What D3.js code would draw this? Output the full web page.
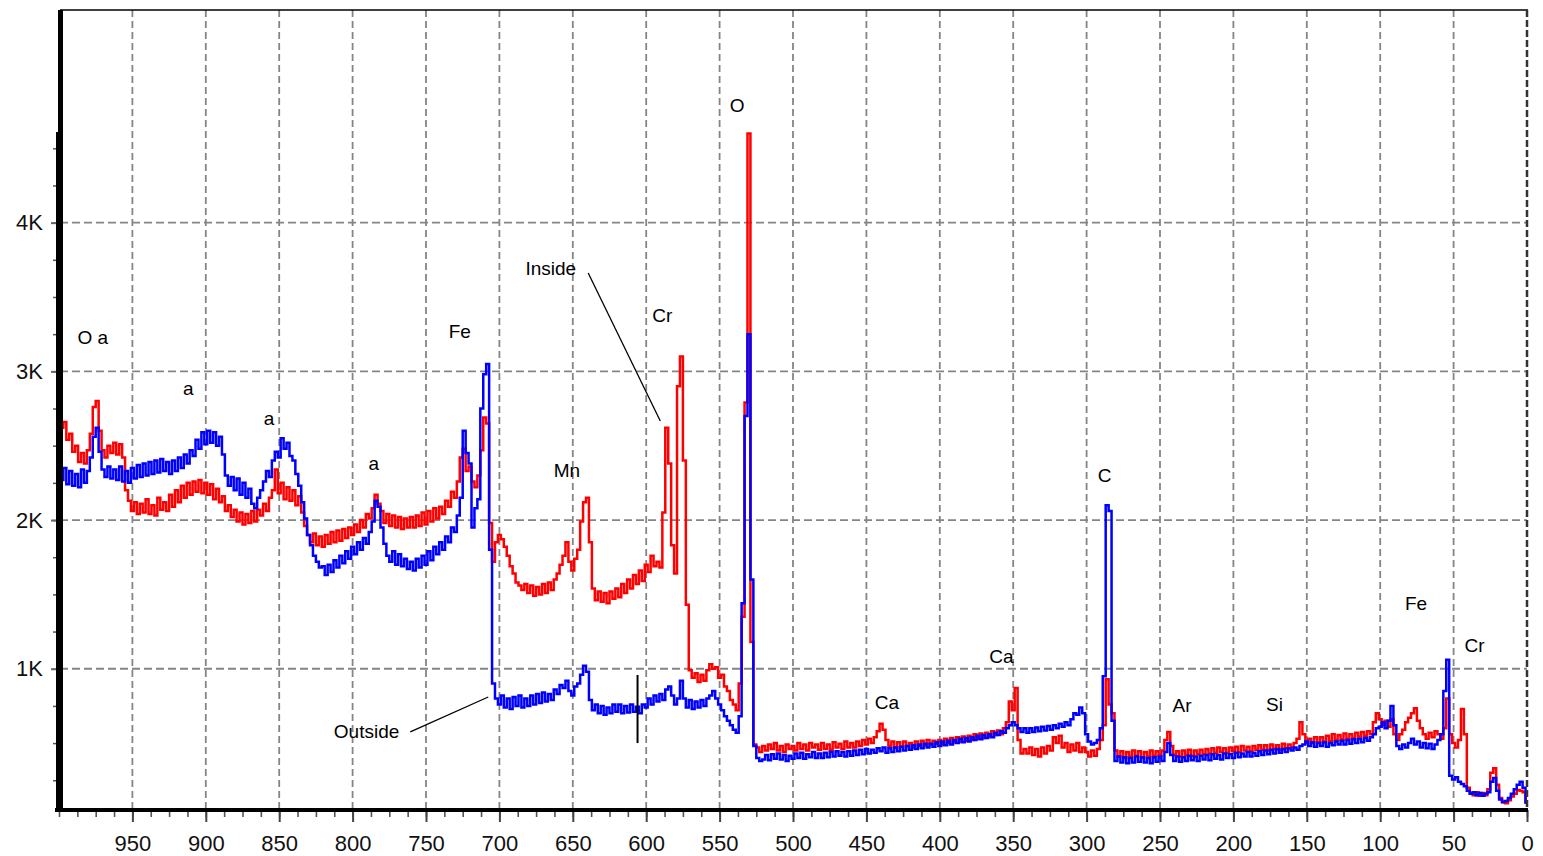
<!DOCTYPE html>
<html>
<head>
<meta charset="utf-8">
<script src="https://cdn.jsdelivr.net/npm/d3@7"></script>
<style>
  body { margin: 0; background: #fff; }
  svg { display: block; font-family: "Liberation Sans", Arial, sans-serif; }
</style>
</head>
<body>
<svg id="chart" width="1543" height="856"></svg>
<script>
// binding energy channels, 2 eV wide, from 1000 down to 0
const energy = d3.range(1000, -1, -2);

// "Inside" spectrum (red), one value per channel
const inside = [
  2700,2620,2660,2540,2580,2460,2500,2390,2450,2380,
  2470,2580,2760,2800,2600,2470,2420,2500,2450,2520,
  2440,2510,2420,2200,2130,2060,2120,2040,2110,2050,
  2140,2040,2100,2030,2150,2070,2120,2060,2170,2090,
  2200,2120,2230,2150,2250,2170,2260,2190,2270,2180,
  2250,2170,2240,2140,2210,2120,2160,2060,2100,2020,
  2070,1990,2050,1970,2040,1980,2060,1990,2070,2030,
  2110,2060,2150,2200,2340,2180,2250,2140,2220,2130,
  2200,2100,2160,2050,1960,1900,1850,1910,1830,1890,
  1820,1900,1840,1920,1850,1930,1860,1940,1880,1950,
  1900,1970,1920,2000,1950,2040,2010,2080,2170,2110,
  2060,1980,2040,1960,2030,1950,2020,1940,2010,1950,
  2020,1950,2030,1960,2050,1970,2060,1990,2080,2010,
  2090,2040,2130,2090,2190,2150,2260,2420,2480,2330,
  2360,2260,2220,2300,2470,2690,2650,1980,1720,1850,
  1900,1870,1820,1760,1690,1640,1580,1560,1530,1570,
  1510,1560,1490,1550,1500,1570,1510,1580,1530,1600,
  1640,1700,1760,1850,1720,1660,1740,1800,1990,2120,
  2150,1850,1540,1460,1520,1450,1510,1440,1520,1470,
  1540,1480,1570,1510,1600,1540,1630,1570,1660,1590,
  1700,1650,1760,1690,1720,1680,2050,2620,2380,1830,
  1640,2900,3100,2400,1430,990,940,970,910,960,
  920,990,1030,1000,1010,940,960,880,850,790,
  760,720,900,1350,2790,4600,1180,490,470,440,
  480,450,490,460,500,450,480,440,490,460,
  480,450,500,460,490,450,500,470,490,455,
  500,460,490,455,505,470,495,460,510,470,
  500,470,510,480,520,490,530,500,540,580,
  630,590,520,480,510,470,505,475,510,480,
  500,470,510,480,515,485,520,490,515,495,
  520,490,530,500,535,505,540,510,545,515,
  550,520,560,530,565,535,570,545,580,555,
  585,560,600,640,780,720,870,520,430,460,
  430,470,420,460,410,470,430,480,450,540,
  500,550,470,500,440,490,450,500,440,470,
  440,410,450,415,460,520,620,930,760,700,
  450,410,445,400,440,410,450,415,445,405,
  440,410,450,415,445,420,450,520,575,480,
  420,445,410,450,420,455,415,450,425,455,
  425,460,430,465,435,470,440,465,435,470,
  445,475,440,480,450,475,445,480,455,485,
  455,485,450,490,460,485,455,495,465,490,
  470,500,530,640,560,500,530,500,540,505,
  540,510,550,515,560,520,555,525,565,530,
  560,535,570,545,575,550,580,560,640,700,
  660,620,650,610,660,560,520,560,590,640,
  670,700,735,650,600,560,530,570,540,580,
  560,530,600,800,560,500,470,520,730,560,
  200,165,150,170,145,165,150,190,300,330,
  220,130,100,95,115,140,160,185,180,170,
  100
];

// "Outside" spectrum (blue)
const outside = [
  2380,2270,2350,2240,2330,2230,2310,2220,2340,2250,
  2330,2420,2560,2620,2460,2340,2290,2360,2280,2340,
  2270,2360,2260,2330,2250,2350,2280,2370,2290,2380,
  2300,2390,2310,2400,2320,2410,2330,2390,2310,2400,
  2330,2420,2350,2440,2380,2470,2430,2540,2480,2590,
  2510,2600,2520,2590,2500,2560,2440,2300,2230,2290,
  2200,2280,2170,2250,2150,2210,2110,2080,2150,2200,
  2260,2330,2290,2400,2460,2420,2550,2480,2520,2430,
  2400,2310,2230,2120,2010,1900,1830,1760,1720,1680,
  1690,1630,1700,1650,1730,1680,1760,1710,1790,1740,
  1820,1770,1850,1800,1880,1840,1920,1990,2130,2090,
  1950,1840,1760,1720,1790,1700,1770,1690,1740,1670,
  1720,1660,1740,1680,1760,1700,1790,1730,1820,1770,
  1850,1800,1890,1850,1950,1920,2030,2150,2600,2450,
  2380,1950,2080,2140,2750,2980,3050,1800,900,800,
  760,820,740,800,730,810,750,820,740,800,
  750,820,760,830,770,840,780,830,790,860,
  830,890,870,920,850,820,880,900,960,1020,
  980,790,720,760,700,750,690,740,700,760,
  710,760,700,750,705,760,710,745,700,760,
  740,800,760,820,780,830,790,860,880,820,
  760,800,920,800,740,790,730,780,740,790,
  750,800,820,850,800,760,720,680,650,620,
  590,570,680,1440,2700,3250,1600,480,400,380,
  390,420,385,425,395,430,390,420,380,415,
  395,430,400,435,395,425,405,440,400,430,
  400,435,405,440,410,445,415,440,410,445,
  415,450,420,455,425,460,430,455,435,465,
  445,470,435,465,440,470,445,475,450,480,
  455,485,460,490,465,495,470,495,475,505,
  480,510,485,515,490,520,500,530,505,535,
  510,540,520,550,525,555,535,560,540,570,
  555,580,570,600,620,640,620,600,575,600,
  570,600,575,605,580,610,585,615,590,620,
  600,630,610,640,620,660,700,690,740,700,
  560,510,490,500,520,600,950,2100,2060,650,
  380,410,370,405,365,400,370,410,375,405,
  370,400,365,405,375,410,380,440,500,420,
  380,410,375,405,380,415,385,410,380,415,
  390,420,385,425,395,420,390,430,400,425,
  400,435,405,430,410,440,410,435,415,445,
  420,450,425,455,430,460,435,460,440,465,
  450,470,455,480,490,510,480,505,475,500,
  480,505,475,500,485,510,490,515,490,520,
  495,525,500,530,505,535,515,540,560,600,
  610,640,600,650,750,620,480,460,490,470,
  500,530,490,510,470,500,465,495,460,490,
  520,560,850,1060,280,255,270,240,225,210,
  180,160,170,150,165,145,160,170,240,265,
  180,120,105,110,130,160,190,220,240,200,
  100
];

const xTicks = d3.range(950, -1, -50);
const yTicks = [1000, 2000, 3000, 4000];

// peak labels, placed in energy / counts
const peakLabels = [
  { text: "O a", e: 977, c: 3184 },
  { text: "a", e: 912, c: 2841 },
  { text: "a", e: 857, c: 2639 },
  { text: "a", e: 785.5, c: 2336 },
  { text: "Fe", e: 727, c: 3224 },
  { text: "Mn", e: 654, c: 2289 },
  { text: "Inside", e: 665, c: 3648 },
  { text: "Cr", e: 589, c: 3332 },
  { text: "O", e: 538, c: 4744 },
  { text: "C", e: 287.7, c: 2256 },
  { text: "Ca", e: 436, c: 729 },
  { text: "Ca", e: 358, c: 1039 },
  { text: "Ar", e: 235, c: 709 },
  { text: "Si", e: 172, c: 716 },
  { text: "Fe", e: 75.6, c: 1395 },
  { text: "Cr", e: 35.8, c: 1113 },
  { text: "Outside", e: 790.5, c: 534 }
];
const leaders = [
  [[639.5, 3661], [590.4, 2666]],
  [[760.7, 575], [707.6, 810]],
  [[605.9, 958], [605.9, 500]]
];

const svg = d3.select("#chart");
const plotLeft = 60, plotRight = 1527, plotTop = 10, plotBottom = 810;

const x = d3.scaleLinear().domain([1000, 0]).range([59, plotRight]);
const y = d3.scaleLinear().domain([50, 5430]).range([plotBottom, plotTop]);

const rows = energy.map((e, i) => ({ e: e, inside: inside[i], outside: outside[i] }));

// grid
svg.append("g")
  .selectAll("line")
  .data(xTicks.filter((d) => d > 0))
  .join("line")
  .attr("x1", (d) => x(d)).attr("x2", (d) => x(d))
  .attr("y1", plotTop).attr("y2", plotBottom)
  .attr("stroke", "#858585")
  .attr("stroke-width", 1.8)
  .attr("stroke-dasharray", "7,4");

svg.append("g")
  .selectAll("line")
  .data(yTicks)
  .join("line")
  .attr("x1", plotLeft).attr("x2", plotRight)
  .attr("y1", (d) => y(d)).attr("y2", (d) => y(d))
  .attr("stroke", "#858585")
  .attr("stroke-width", 1.8)
  .attr("stroke-dasharray", "8,4");

// spectra
svg.append("clipPath").attr("id", "plot")
  .append("rect").attr("x", plotLeft).attr("y", plotTop)
  .attr("width", plotRight - plotLeft).attr("height", plotBottom - plotTop);

const plot = svg.append("g").attr("clip-path", "url(#plot)");

const series = [
  { key: "inside", color: "#ff0000" },
  { key: "outside", color: "#0000ff" }
];
series.forEach((s) => {
  const line = d3.line()
    .curve(d3.curveStep)
    .x((d) => x(d.e))
    .y((d) => y(d[s.key]));
  plot.append("path")
    .datum(rows)
    .attr("fill", "none")
    .attr("stroke", s.color)
    .attr("stroke-width", 2.5)
    .attr("d", line);
});

// frame
svg.append("line")
  .attr("x1", plotLeft).attr("x2", plotRight + 1).attr("y1", plotTop).attr("y2", plotTop)
  .attr("stroke", "#000").attr("stroke-width", 1.5);
svg.append("line")
  .attr("x1", plotRight).attr("x2", plotRight).attr("y1", plotTop).attr("y2", plotBottom)
  .attr("stroke", "#333").attr("stroke-width", 2.5)
  .attr("stroke-dasharray", "7,3");

// x axis
const minorX = d3.range(1000, -0.1, -12.5);
svg.append("g")
  .attr("transform", `translate(0,${plotBottom})`)
  .call(d3.axisBottom(x).tickValues(minorX).tickSize(7).tickFormat(""))
  .call((g) => g.select(".domain").remove())
  .call((g) => g.selectAll("line").attr("stroke", "#555").attr("stroke-width", 1.6));

svg.append("g")
  .attr("transform", `translate(0,${plotBottom})`)
  .call(d3.axisBottom(x).tickValues(xTicks).tickSize(12).tickPadding(13).tickFormat(d3.format("d")))
  .call((g) => g.select(".domain").remove())
  .call((g) => g.selectAll("line").attr("stroke", "#444").attr("stroke-width", 2))
  .call((g) => g.selectAll("text")
    .attr("fill", "#111")
    .style("font-size", "22px"));

svg.append("line")
  .attr("x1", 55).attr("x2", plotRight + 1).attr("y1", plotBottom).attr("y2", plotBottom)
  .attr("stroke", "#000").attr("stroke-width", 4);

// y axis
const minorY = d3.range(250, 4750, 250);
svg.append("g")
  .attr("transform", `translate(${plotLeft},0)`)
  .call(d3.axisLeft(y).tickValues(minorY).tickSize(7).tickFormat(""))
  .call((g) => g.select(".domain").remove())
  .call((g) => g.selectAll("line").attr("stroke", "#555").attr("stroke-width", 1.5));

svg.append("g")
  .attr("transform", `translate(${plotLeft},0)`)
  .call(d3.axisLeft(y).tickValues(yTicks).tickSize(9).tickPadding(8)
    .tickFormat((d) => d / 1000 + "K"))
  .call((g) => g.select(".domain").remove())
  .call((g) => g.selectAll("line").attr("stroke", "#666").attr("stroke-width", 2))
  .call((g) => g.selectAll("text")
    .attr("fill", "#111")
    .style("font-size", "22px"));

svg.append("line")
  .attr("x1", 60.5).attr("x2", 60.5).attr("y1", plotTop).attr("y2", 132)
  .attr("stroke", "#000").attr("stroke-width", 5);
svg.append("line")
  .attr("x1", 59.5).attr("x2", 59.5).attr("y1", 132).attr("y2", plotBottom + 2)
  .attr("stroke", "#000").attr("stroke-width", 7);

// annotations
svg.append("g")
  .selectAll("line")
  .data(leaders)
  .join("line")
  .attr("x1", (d) => x(d[0][0])).attr("y1", (d) => y(d[0][1]))
  .attr("x2", (d) => x(d[1][0])).attr("y2", (d) => y(d[1][1]))
  .attr("stroke", "#000")
  .attr("stroke-width", (d, i) => (i === 2 ? 2 : 1.3));

svg.append("g")
  .selectAll("text")
  .data(peakLabels)
  .join("text")
  .attr("x", (d) => x(d.e))
  .attr("y", (d) => y(d.c))
  .attr("text-anchor", "middle")
  .attr("fill", "#000")
  .style("font-size", "19px")
  .text((d) => d.text);
</script>
</body>
</html>
